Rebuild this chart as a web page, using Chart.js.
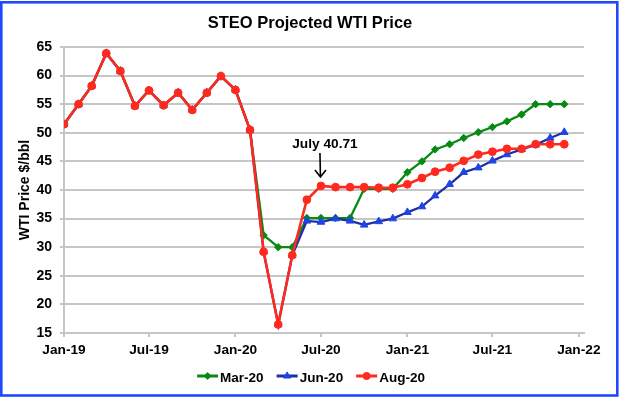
<!DOCTYPE html>
<html>
<head>
<meta charset="utf-8">
<script src="https://cdn.jsdelivr.net/npm/chart.js@4.4.1/dist/chart.umd.min.js"></script>
<style>
  html, body { margin: 0; padding: 0; background: #ffffff; }
  #wrap { width: 621px; height: 399px; }
</style>
</head>
<body>
<div id="wrap"><canvas id="c" width="621" height="399"></canvas></div>
<script>
// ---- data (monthly, Jan-19 .. Dec-21) ----
const months = ['Jan-19','Feb-19','Mar-19','Apr-19','May-19','Jun-19','Jul-19','Aug-19','Sep-19','Oct-19','Nov-19','Dec-19',
                'Jan-20','Feb-20','Mar-20','Apr-20','May-20','Jun-20','Jul-20','Aug-20','Sep-20','Oct-20','Nov-20','Dec-20',
                'Jan-21','Feb-21','Mar-21','Apr-21','May-21','Jun-21','Jul-21','Aug-21','Sep-21','Oct-21','Nov-21','Dec-21'];
const mar20 = [51.5,55.0,58.2,63.9,60.8,54.7,57.4,54.8,57.0,54.0,57.0,59.9,
               57.5,50.5,32.1,30.0,30.0,35.1,35.1,35.1,35.1,40.2,40.2,40.2,
               43.1,45.0,47.1,48.0,49.1,50.1,51.0,52.0,53.2,55.0,55.0,55.0];
const jun20 = [51.5,55.0,58.2,63.9,60.8,54.7,57.4,54.8,57.0,54.0,57.0,59.9,
               57.5,50.5,29.2,16.5,28.6,34.6,34.4,35.0,34.6,33.9,34.5,35.0,
               36.1,37.1,39.0,41.0,43.1,43.9,45.1,46.2,47.1,47.9,49.1,50.1];
const aug20 = [51.5,55.0,58.2,63.9,60.8,54.7,57.4,54.8,57.0,54.0,57.0,59.9,
               57.5,50.5,29.2,16.5,28.6,38.3,40.71,40.5,40.5,40.5,40.4,40.4,
               41.0,42.1,43.2,43.9,45.1,46.2,46.7,47.2,47.2,48.0,48.0,48.0];
const seriesNames = ['Mar-20','Jun-20','Aug-20'];
const xTickLabels = ['Jan-19','Jul-19','Jan-20','Jul-20','Jan-21','Jul-21','Jan-22'];
const yTicks = [15,20,25,30,35,40,45,50,55,60,65];
const chartTitle = 'STEO Projected WTI Price';
const yTitle = 'WTI Price $/bbl';
const annotationText = 'July 40.71';
const annotationMonth = 'Jul-20';

// ---- helpers: month label -> days since 1 Jan 2019 (date axis like Excel) ----
const MON = {Jan:0,Feb:1,Mar:2,Apr:3,May:4,Jun:5,Jul:6,Aug:7,Sep:8,Oct:9,Nov:10,Dec:11};
function dayOf(label) {
  const [m, y] = label.split('-');
  return (Date.UTC(2000 + (+y), MON[m], 1) - Date.UTC(2019, 0, 1)) / 86400000;
}
const xDays = months.map(dayOf);
const toPts = arr => arr.map((v, i) => ({x: xDays[i], y: v}));

const FONT = '"Liberation Sans", Arial, Helvetica, sans-serif';
const GREEN = '#078a14', BLUE_L = '#1f2ea6', BLUE_M = '#1e44e6', RED = '#ff2a1f';
const GRID = '#c6c6c6';

const styles = [
  {color: GREEN, marker: GREEN, pointStyle: 'rectRot', radius: 3.7, width: 2.3},
  {color: BLUE_L, marker: BLUE_M, pointStyle: 'triangle', radius: 4.4, width: 2.3},
  {color: RED, marker: RED, pointStyle: 'circle', radius: 3.9, width: 2.6}
];

const deco = {
  id: 'deco',
  afterDraw(chart) {
    const ctx = chart.ctx;
    const xs = chart.scales.x, ys = chart.scales.y;
    ctx.save();
    // title
    ctx.fillStyle = '#000';
    ctx.textAlign = 'center';
    ctx.textBaseline = 'middle';
    ctx.font = 'bold 16.5px ' + FONT;
    ctx.fillText(chartTitle, 310, 23);

    // annotation with arrow
    const ai = months.indexOf(annotationMonth);
    const px = xs.getPixelForValue(xDays[ai]);
    const py = ys.getPixelForValue(aug20[ai]);
    ctx.font = 'bold 13.7px ' + FONT;
    ctx.fillText(annotationText, px + 4, py - 42);
    ctx.strokeStyle = '#000';
    ctx.lineWidth = 1.6;
    ctx.beginPath();
    ctx.moveTo(px - 1, py - 33);
    ctx.lineTo(px - 0.5, py - 9);
    ctx.moveTo(px - 6, py - 16);
    ctx.lineTo(px - 0.5, py - 9);
    ctx.lineTo(px + 5, py - 16);
    ctx.stroke();

    // legend (line + marker + label)
    ctx.font = 'bold 13.5px ' + FONT;
    const lineLen = 21, gapT = 2, gapI = 13;
    const widths = seriesNames.map(n => ctx.measureText(n).width);
    const total = widths.reduce((a, w) => a + lineLen + gapT + w, 0) + gapI * (seriesNames.length - 1);
    let lx = 311 - total / 2;
    const ly = 376;
    ctx.textAlign = 'left';
    seriesNames.forEach((n, i) => {
      const s = styles[i];
      ctx.strokeStyle = s.color;
      ctx.lineWidth = 3;
      ctx.beginPath();
      ctx.moveTo(lx, ly);
      ctx.lineTo(lx + lineLen, ly);
      ctx.stroke();
      ctx.fillStyle = s.marker;
      ctx.strokeStyle = s.marker;
      ctx.lineWidth = 1;
      Chart.helpers.drawPoint(ctx, {pointStyle: s.pointStyle, radius: s.radius - 0.3, rotation: 0, borderWidth: 1}, lx + lineLen / 2, ly);
      ctx.fillStyle = '#000';
      ctx.textBaseline = 'middle';
      ctx.fillText(n, lx + lineLen + gapT, ly + 2);
      lx += lineLen + gapT + widths[i] + gapI;
    });

    // outer blue frame
    ctx.strokeStyle = '#1f48ff';
    ctx.lineWidth = 2.6;
    ctx.strokeRect(1.3, 2.3, 616, 393.2);
    ctx.restore();
  }
};

const datasets = [mar20, jun20, aug20].map((arr, i) => ({
  label: seriesNames[i],
  data: toPts(arr),
  borderColor: styles[i].color,
  backgroundColor: styles[i].marker,
  pointBackgroundColor: styles[i].marker,
  pointBorderColor: styles[i].marker,
  pointBorderWidth: 1,
  pointStyle: styles[i].pointStyle,
  pointRadius: styles[i].radius,
  borderWidth: styles[i].width,
  tension: 0,
  order: 2 - i
}));

new Chart(document.getElementById('c'), {
  type: 'line',
  data: { datasets },
  options: {
    responsive: false,
    animation: false,
    devicePixelRatio: 1,
    layout: { padding: { left: 0, top: 47, right: 37, bottom: 36 } },
    plugins: { legend: { display: false }, tooltip: { enabled: false }, title: { display: false } },
    scales: {
      x: {
        type: 'linear',
        min: 0,
        max: 1107,
        afterFit(s) { s.height = 30; },
        afterBuildTicks(s) { s.ticks = xTickLabels.map(l => ({ value: dayOf(l) })); },
        grid: { drawOnChartArea: false, drawTicks: true, tickLength: 4, color: GRID, lineWidth: 2 },
        border: { display: true, color: GRID, width: 2 },
        ticks: {
          autoSkip: false, maxRotation: 0, padding: 5, color: '#000',
          font: { family: FONT, size: 13.7, weight: 'bold' },
          callback: (v, i) => xTickLabels[i]
        }
      },
      y: {
        min: 15,
        max: 65,
        afterFit(s) { s.width = 64; },
        afterBuildTicks(s) { s.ticks = yTicks.map(v => ({ value: v })); },
        grid: { color: GRID, lineWidth: 2, tickLength: 4, drawTicks: true },
        border: { display: true, color: GRID, width: 2 },
        ticks: { padding: 8, color: '#000', font: { family: FONT, size: 14, weight: 'bold' } },
        title: {
          display: true, text: yTitle, color: '#000',
          font: { family: FONT, size: 14, weight: 'bold', lineHeight: 1.2 },
          padding: { top: 17, bottom: 0 }
        }
      }
    }
  },
  plugins: [deco]
});
</script>
</body>
</html>
